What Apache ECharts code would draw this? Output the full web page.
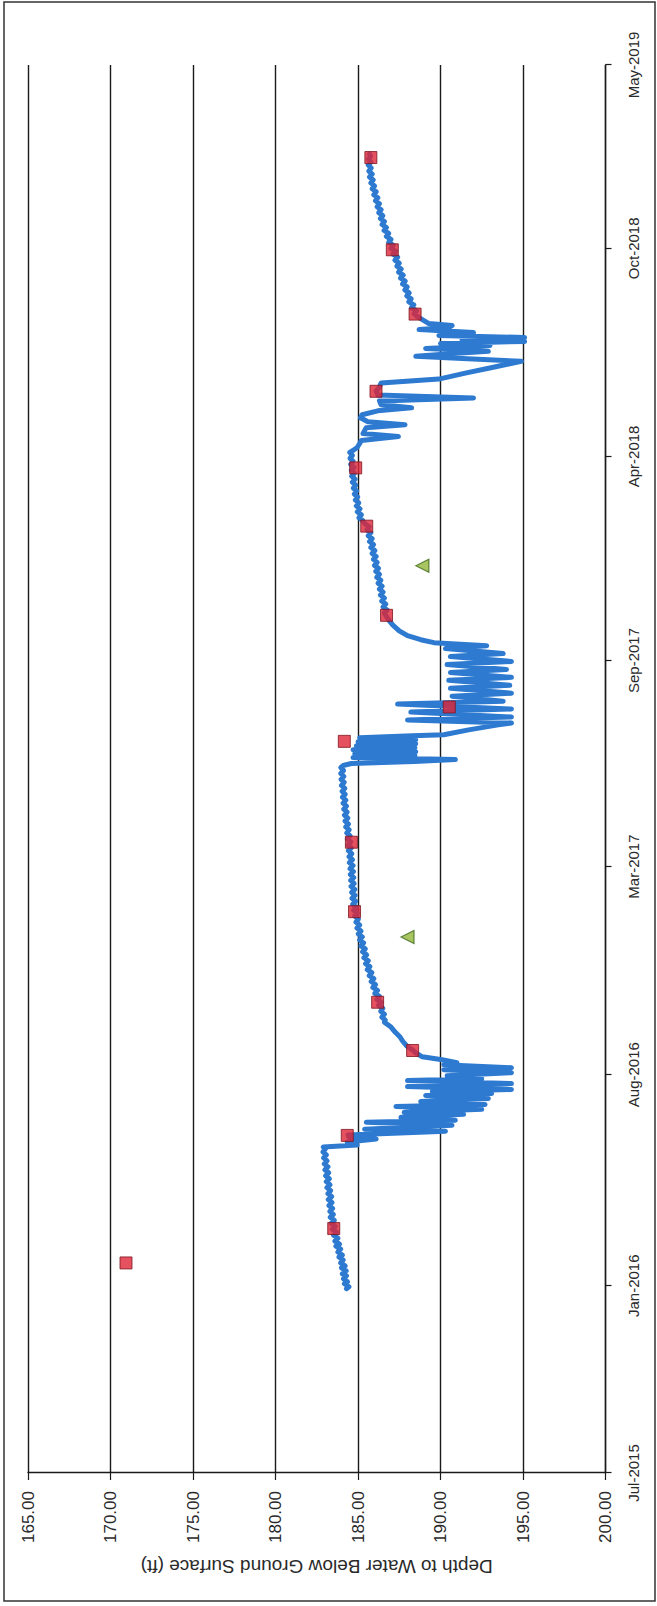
<!DOCTYPE html>
<html>
<head>
<meta charset="utf-8">
<title>Depth to Water Below Ground Surface</title>
<script src="https://cdn.jsdelivr.net/npm/echarts@6/dist/echarts.min.js"></script>
<style>
  html, body { margin: 0; padding: 0; background: #ffffff; }
  body { width: 657px; height: 1606px; overflow: hidden; position: relative; }
  /* The chart is laid out landscape and turned a quarter turn counter-clockwise onto the page. */
  #chart {
    position: absolute; left: 0; top: 0;
    width: 1606px; height: 657px;
    transform-origin: 0 0;
    transform: translate(0px, 1606px) rotate(-90deg);
  }
</style>
</head>
<body>
<div id="chart"></div>
<script>
// Time runs in days after 1 Jul 2015.
const DAY_MAX = 1421;
const dateTickDay = [0, 189, 402, 612, 820, 1026, 1236, 1421];
const dateTickLabel = ['Jul-2015', 'Jan-2016', 'Aug-2016', 'Mar-2017', 'Sep-2017', 'Apr-2018', 'Oct-2018', 'May-2019'];
const DEPTH_MIN = 165;
const DEPTH_MAX = 200;
const DEPTH_STEP = 5;
const AXIS_TITLE = 'Depth to Water Below Ground Surface (ft)';

// Continuous transducer record
const recordDay = [
  186,188,191,193,196,199,201,204,207,209,212,215,218,220,223,226,229,231,234,237,
  240,243,246,249,252,255,258,261,264,267,270,273,276,279,282,285,288,291,294,297,
  300,303,306,309,312,315,318,321,324,327,329,
  331,334,337,339,341,345,347,351,354,356,359,362,364,367,370,372,375,378,381,383,
  385,387,390,393,396,398,401,404,407,409,412,414,417,420,424,427,431,436,440,445,
  450,455,
  457,460,463,466,469,472,475,478,481,484,487,490,493,496,499,502,505,508,511,514,
  517,520,523,526,529,532,535,538,541,544,547,550,553,556,559,562,565,568,571,574,
  577,580,583,586,589,592,595,598,601,604,607,610,613,616,619,622,625,628,631,634,
  637,640,643,646,649,652,655,658,661,664,667,670,673,676,679,682,685,688,691,694,
  697,700,703,706,709,712,714,
  716,718,720,722,724,726,728,730,732,734,736,738,740,742,744,745,750,755,757,
  760,763,768,771,776,779,784,787,792,795,800,803,808,811,816,819,824,827,832,835,
  838,841,845,850,856,861,865,
  868,871,874,877,880,883,886,889,892,895,898,901,904,907,910,913,916,919,922,925,
  928,931,934,937,940,943,946,949,952,955,958,961,964,967,970,973,976,979,982,985,
  988,991,994,997,1000,1003,1006,1009,1012,1015,1018,1021,1024,1027,1030,1032,1035,1039,1042,1046,
  1049,1052,1055,1058,1061,1065,1068,1072,1075,1078,1082,1085,1088,1092,1096,1100,
  1104,1110,1116,1122,1125,1127,1130,1132,1135,1138,1140,1142,1144,1146,1148,1151,
  1154,1156,1158,1160,1164,
  1167,1170,1173,1176,1179,1182,1185,1188,1191,1194,1197,1200,1203,1206,1209,1212,1215,1218,1221,1224,
  1227,1230,1233,1236,1239,1242,1245,1248,1251,1254,1257,1260,1263,1266,1269,1272,1275,1278,1281,1284,
  1287,1290,1293,1296,1299,1302,1305,1308,1311,1314,1317,1320,1323,1326,1329,1331
];
const recordDepth = [
  184.30,184.45,184.18,184.36,184.12,184.30,184.05,184.28,184.00,184.22,183.95,184.10,183.85,184.05,183.78,183.95,183.66,183.88,183.60,183.78,
  183.52,183.70,183.45,183.62,183.38,183.56,183.32,183.50,183.30,183.46,183.24,183.42,183.20,183.40,183.18,183.34,183.12,183.30,183.08,183.26,
  183.04,183.22,183.00,183.18,182.96,183.12,182.92,183.08,182.88,183.02,182.90,
  184.95,184.35,186.10,184.45,184.40,190.30,185.40,190.70,185.50,190.90,187.60,191.40,187.80,192.50,187.30,192.70,188.80,192.90,189.10,193.10,
  189.50,194.30,188.00,194.30,188.00,192.50,190.40,194.30,190.20,194.30,190.20,191.00,190.10,188.90,188.50,188.30,187.95,187.70,187.55,187.25,
  187.00,186.60,
  186.65,186.45,186.60,186.38,186.50,186.25,186.40,186.15,186.30,186.02,186.18,185.90,186.06,185.80,185.96,185.68,185.84,185.56,185.72,185.46,
  185.62,185.36,185.52,185.28,185.44,185.18,185.34,185.10,185.26,185.02,185.18,184.94,185.10,184.88,185.02,184.80,184.96,184.74,184.90,184.68,
  184.86,184.64,184.82,184.62,184.80,184.58,184.76,184.56,184.74,184.54,184.72,184.52,184.70,184.48,184.66,184.46,184.62,184.42,184.60,184.40,
  184.56,184.36,184.52,184.32,184.46,184.26,184.42,184.22,184.38,184.18,184.34,184.14,184.30,184.10,184.26,184.06,184.22,184.04,184.20,184.00,
  184.16,183.98,184.14,183.96,184.12,183.96,184.10,
  184.60,188.40,190.90,184.70,188.45,184.80,188.50,184.70,188.45,184.90,188.50,185.00,188.50,185.10,188.30,190.20,191.70,193.50,194.30,
  188.00,194.30,188.20,194.30,187.40,193.80,190.70,194.30,190.60,194.20,190.50,194.30,190.60,194.00,190.40,194.30,190.60,193.80,190.30,192.80,
  189.60,188.80,188.00,187.50,187.10,186.85,186.70,
  186.60,186.76,186.52,186.68,186.44,186.60,186.36,186.52,186.30,186.46,186.22,186.38,186.14,186.30,186.08,186.24,186.00,186.16,185.94,186.10,
  185.86,186.02,185.78,185.94,185.70,185.86,185.62,185.78,185.54,185.68,185.42,185.30,185.06,185.20,184.96,185.12,184.90,185.04,184.84,184.98,
  184.78,184.92,184.72,184.86,184.66,184.82,184.62,184.78,184.60,184.76,184.56,184.70,184.52,184.66,184.50,184.70,184.95,185.10,185.20,187.45,
  185.30,185.40,185.50,187.85,185.60,185.15,185.25,186.20,188.25,186.40,186.30,192.00,186.20,186.10,186.30,186.40,
  189.90,191.50,193.20,194.90,191.00,188.50,191.00,192.90,189.10,193.00,190.00,195.10,191.30,195.10,189.90,192.00,
  188.70,190.50,190.70,189.30,188.90,
  188.60,188.40,188.54,188.24,188.38,188.08,188.22,187.96,188.10,187.84,187.98,187.70,187.86,187.58,187.74,187.46,187.62,187.36,187.50,187.24,
  187.40,187.12,187.28,187.00,187.14,186.86,187.00,186.72,186.86,186.58,186.72,186.46,186.60,186.36,186.50,186.26,186.40,186.16,186.30,186.06,
  186.20,185.96,186.10,185.86,186.00,185.78,185.92,185.70,185.86,185.66,185.80,185.62,185.78,185.64,185.76,185.70
];

// Manual water-level measurements
const manualDay = [212, 246.7, 340.7, 426.4, 475.1, 566.5, 636.6, 738.4, 773.1, 865.6, 955.6, 1014.4, 1091.7, 1169.6, 1234.5, 1327.6];
const manualDepth = [170.94, 183.53, 184.35, 188.31, 186.19, 184.79, 184.60, 184.17, 190.53, 186.73, 185.53, 184.86, 186.09, 188.46, 187.08, 185.78];

// Additional readings (triangles)
const otherDay = [541, 915.6];
const otherDepth = [188.0, 188.9];

const pairs = (xs, ys) => xs.map((x, i) => [x, ys[i]]);

function dayLabel(v) {
  let best = 0;
  dateTickDay.forEach((d, i) => { if (Math.abs(d - v) < Math.abs(dateTickDay[best] - v)) best = i; });
  return Math.abs(dateTickDay[best] - v) < 1 ? dateTickLabel[best] : '';
}

const FONT = "'Liberation Sans', Arial, sans-serif";
const INK = '#1a1a1a';
const chart = echarts.init(document.getElementById('chart'), null, { renderer: 'svg', width: 1606, height: 657 });

chart.setOption({
  animation: false,
  backgroundColor: '#ffffff',
  grid: { left: 133, right: 65, top: 28, bottom: 51.5, containLabel: false },
  xAxis: {
    type: 'value',
    min: 0, max: DAY_MAX,
    axisLine: { show: true, onZero: false, lineStyle: { color: INK, width: 1.4 } },
    axisTick: { show: true, inside: false, length: 6, customValues: dateTickDay, lineStyle: { color: INK, width: 1.2 } },
    axisLabel: { margin: 20, color: '#2a2a2a', fontFamily: FONT, fontSize: 15, customValues: dateTickDay, formatter: dayLabel },
    splitLine: { show: false }
  },
  yAxis: {
    type: 'value',
    inverse: true,
    min: DEPTH_MIN, max: DEPTH_MAX, interval: DEPTH_STEP,
    name: AXIS_TITLE,
    nameLocation: 'middle',
    nameRotate: 90,
    nameGap: 84,
    nameTextStyle: { color: '#2a2a2a', fontFamily: FONT, fontSize: 19 },
    axisLine: { show: true, lineStyle: { color: INK, width: 1.4 } },
    axisTick: { show: true, inside: false, length: 7, lineStyle: { color: INK, width: 1.2 } },
    axisLabel: { margin: 18, color: '#2a2a2a', fontFamily: FONT, fontSize: 17, formatter: v => v.toFixed(2) },
    splitLine: { show: true, lineStyle: { color: INK, width: 1.4 } }
  },
  graphic: [{
    type: 'rect',
    shape: { x: 5, y: 4, width: 1599, height: 651 },
    style: { fill: 'none', stroke: '#333333', lineWidth: 1.5 },
    silent: true
  }],
  series: [
    {
      name: 'Transducer',
      type: 'line',
      data: pairs(recordDay, recordDepth),
      showSymbol: false,
      symbol: 'none',
      lineStyle: { color: '#2d7ad0', width: 5, join: 'round', cap: 'round' },
      z: 2
    },
    {
      name: 'Manual',
      type: 'scatter',
      data: pairs(manualDay, manualDepth),
      symbol: 'rect',
      symbolSize: 12,
      itemStyle: { color: '#de2636', borderColor: '#7d1522', borderWidth: 1 },
      z: 3
    },
    {
      name: 'Other',
      type: 'scatter',
      data: pairs(otherDay, otherDepth),
      symbol: 'triangle',
      symbolSize: 13,
      itemStyle: { color: '#93b63a', borderColor: '#3f6a1c', borderWidth: 1.2 },
      z: 3
    }
  ]
});
</script>
</body>
</html>
